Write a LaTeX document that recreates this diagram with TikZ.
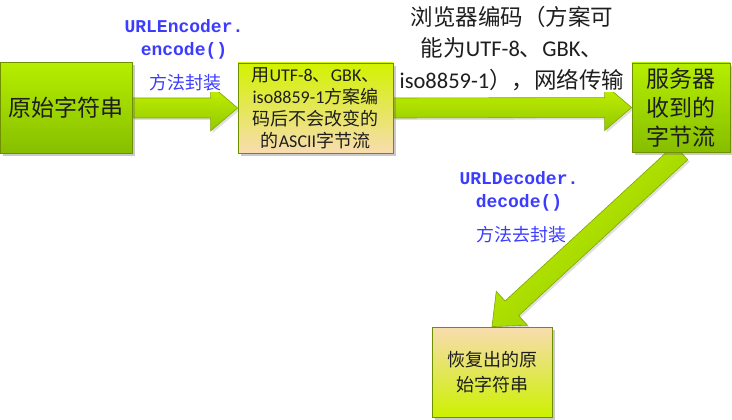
\documentclass[tikz,border=0pt]{standalone}
\usepackage{fontspec}
\setmainfont{Noto Sans CJK SC}
\newfontfamily\lat{Carlito}
\newfontfamily\code{Liberation Mono}
\usetikzlibrary{calc,positioning,shadows}
\pgfdeclarelayer{background}
\pgfsetlayers{background,main}
\definecolor{limetop}{HTML}{B6EE00}
\definecolor{limebot}{HTML}{86BE00}
\definecolor{limelight}{HTML}{D2F200}
\definecolor{peach}{HTML}{F8DCB0}
\definecolor{boxline}{HTML}{6E9000}
\definecolor{arrowtop}{HTML}{C4F200}
\definecolor{arrowbot}{HTML}{92C800}
\definecolor{arrowline}{HTML}{7FA600}
\definecolor{codeblue}{HTML}{3C3CFF}
\definecolor{textgray}{HTML}{1E1E1E}
\tikzset{%
	boxshadow/.style = {drop shadow={shadow xshift=3pt, shadow yshift=-3pt, opacity=0.35, fill=black!60}},
	greenbox/.style  = {draw=boxline, line width=0.8pt, top color=limetop, bottom color=limebot, boxshadow, text=textgray, align=center},
	asciibox/.style  = {draw=boxline, line width=0.8pt, top color=limelight, bottom color=peach, boxshadow, text=textgray, align=center},
	resultbox/.style = {draw=boxline, line width=0.8pt, top color=peach, bottom color=limelight!80!limetop, boxshadow, text=textgray, align=center},
	arrowbody/.style = {draw=arrowline, line width=0.6pt, top color=arrowtop, bottom color=arrowbot, drop shadow={shadow xshift=2pt, shadow yshift=-2pt, opacity=0.25, fill=black!50}},
	codelbl/.style   = {text=codeblue, align=center, font=\code\bfseries\fontsize{18}{23}\selectfont},
	methlbl/.style   = {text=codeblue, fill=white, inner sep=1pt, font=\fontsize{18}{22}\selectfont},
	netlbl/.style    = {text=textgray, fill=white, inner sep=1pt, align=center, font=\fontsize{22.5}{31.5}\selectfont},
}
% block arrow from #2 to #3
\newcommand{\blockarrow}[3][]{%
	\coordinate (ah) at ($(#3)!27pt!(#2)$);
	\draw[arrowbody,#1] ($(#2)!10pt!90:(#3)$) -- ($(ah)!10pt!90:(#3)$) -- ($(ah)!23pt!90:(#3)$) -- (#3)
		-- ($(ah)!23pt!-90:(#3)$) -- ($(ah)!10pt!-90:(#3)$) -- ($(#2)!10pt!-90:(#3)$) -- cycle;
}
\begin{document}
\begin{tikzpicture}[x=1pt,y=-1pt]
	\useasboundingbox (0,0) rectangle (732,420);
	% boxes
	\node[greenbox, minimum width=132pt, minimum height=91pt, font=\fontsize{23}{28}\selectfont] (src) at (66,108) {原始字符串};
	\node[asciibox, minimum width=155pt, minimum height=90pt, font=\fontsize{18}{22}\selectfont] (ascii) at (315.5,108)
		{用{\lat UTF-8}、{\lat GBK}、\\{\lat iso8859-1}方案编\\码后不会改变的\\的{\lat ASCII}字节流};
	\node[greenbox, minimum width=98pt, minimum height=89pt, font=\fontsize{23}{29}\selectfont] (srv) at (681,107.5) {服务器\\收到的\\字节流};
	\node[resultbox, minimum width=120pt, minimum height=90pt, font=\fontsize{18}{25}\selectfont] (res) at (492,372) {恢复出的原\\始字符串};
	% arrows
	\begin{pgfonlayer}{background}
	\blockarrow{src.east}{ascii.west}
	\blockarrow{ascii.east}{srv.west}
	\blockarrow[shading angle=43]{srv.south}{res.north}
	\end{pgfonlayer}
	% labels
	\node[codelbl] (encname) at (184,39.5) {URLEncoder.\\encode()};
	\node[methlbl] (encmeth) at (185,83) {方法封装};
	\node[netlbl] (net) at (512,48.5) {浏览器编码（方案可\\能为{\lat UTF-8}、{\lat GBK}、\\{\lat iso8859-1}），网络传输};
	\node[codelbl] (decname) at (519,191) {URLDecoder.\\decode()};
	\node[methlbl] (decmeth) at (521,235) {方法去封装};
\end{tikzpicture}
\end{document}
